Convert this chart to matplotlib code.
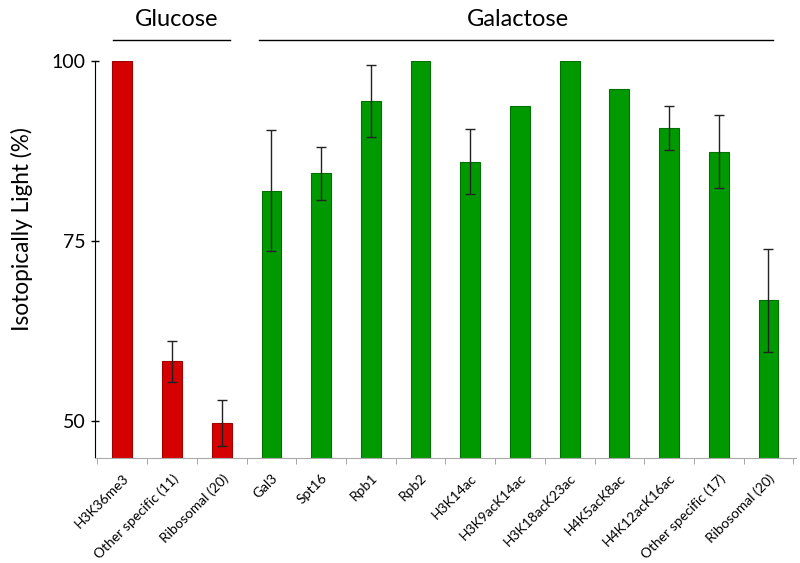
import matplotlib
matplotlib.use("Agg")
import matplotlib.pyplot as plt
import matplotlib.transforms as mtransforms
import numpy as np

plt.rcParams['font.family'] = ['Lato', 'DejaVu Sans']

categories = ["H3K36me3", "Other specific (11)", "Ribosomal (20)", "Gal3", "Spt16",
              "Rpb1", "Rpb2", "H3K14ac", "H3K9acK14ac", "H3K18acK23ac", "H4K5acK8ac",
              "H4K12acK16ac", "Other specific (17)", "Ribosomal (20)"]
values = [100, 58.3, 49.7, 82.0, 84.4, 94.5, 100, 86.0, 93.8, 100, 96.1, 90.7, 87.4, 66.8]
errors = [0, 2.8, 3.2, 8.4, 3.7, 5.0, 0, 4.5, 0, 0, 0, 3.05, 5.05, 7.15]
groups = ["Glucose"] * 3 + ["Galactose"] * 11
yticks = [50, 75, 100]

fig = plt.figure(figsize=(8, 5.63), dpi=100)
ax = fig.add_axes([0.11875, 0.1865, 0.876, 0.7052])

x = np.arange(len(categories))
face = ['#d50000' if g == "Glucose" else '#009a00' for g in groups]
edge = ['#a00000' if g == "Glucose" else '#007000' for g in groups]
ax.bar(x, values, width=0.4, color=face, edgecolor=edge, linewidth=0.8, zorder=2)
for xi, v, e in zip(x, values, errors):
    if e > 0:
        ax.errorbar(xi, v, yerr=e, fmt='none', ecolor='#222222', elinewidth=1.0,
                    capsize=3.5, capthick=1.0, zorder=3)

ax.set_xlim(-0.55, 13.55)
ax.set_ylim(44.9, 100)
ax.set_yticks(yticks)
ax.set_yticklabels([str(t) for t in yticks], fontsize=14)
ax.tick_params(axis='y', direction='inout', length=6, width=1, pad=4)
fig.text(0.028, 1 - 229 / 563, "Isotopically Light (%)", rotation=90,
         ha='center', va='center', fontsize=16.3)

ax.set_xticks(x)
ax.set_xticklabels(categories, rotation=45, ha='right', rotation_mode='anchor', fontsize=10)
ax.tick_params(axis='x', length=0, pad=10)
ax.set_xticks(np.arange(-0.5, 14, 1), minor=True)
ax.tick_params(axis='x', which='minor', length=4, color='#999999', direction='out')

for s in ['top', 'right']:
    ax.spines[s].set_visible(False)
ax.spines['bottom'].set_color('#aaaaaa')
ax.spines['left'].set_color('black')
ax.spines['left'].set_bounds(44.9, 100)

trans = mtransforms.blended_transform_factory(ax.transData, fig.transFigure)
ax.plot([-0.18, 2.17], [0.929, 0.929], color='black', lw=1.0, transform=trans, clip_on=False)
ax.plot([2.74, 13.1], [0.929, 0.929], color='black', lw=1.0, transform=trans, clip_on=False)
ax.text(1.1, 0.966, "Glucose", transform=trans, ha='center', va='center', fontsize=17)
ax.text(7.95, 0.966, "Galactose", transform=trans, ha='center', va='center', fontsize=17)

fig.savefig("out.png", dpi=100)
